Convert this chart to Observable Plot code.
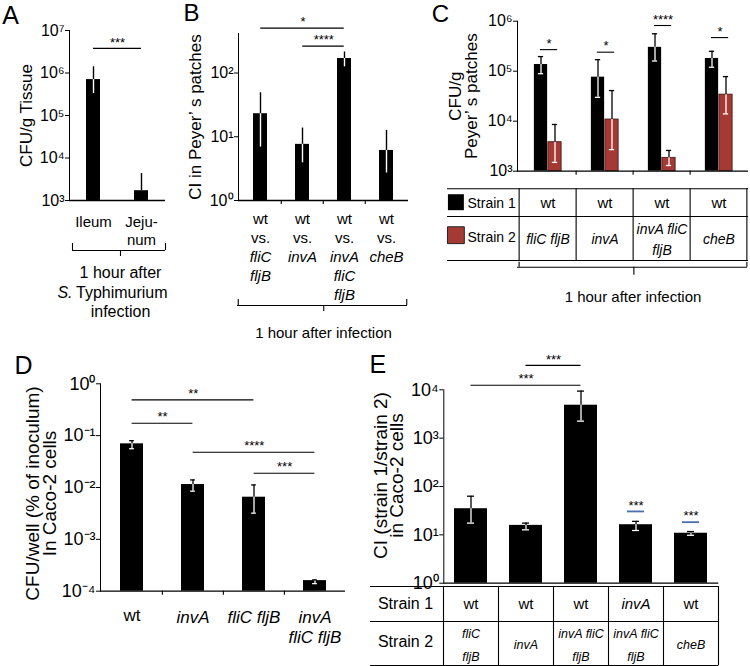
<!DOCTYPE html>
<html><head><meta charset="utf-8">
<script src="https://cdn.jsdelivr.net/npm/d3@7"></script>
<script src="https://cdn.jsdelivr.net/npm/@observablehq/plot@0.6"></script>
<style>
body{margin:0;background:#fff}
#fig{position:relative;width:750px;height:666px;overflow:hidden;background:#fff}
.panel{position:absolute}
</style></head><body><div id="fig"></div><script>
// ---------------- DATA ----------------
// Panel A
const aCategories = ["Ileum", "Jejunum"];
const aTickText = ["Ileum", "Jeju-\nnum"];
const aMean = [7.0e5, 1.7e3];
const aUpper = [1.4e6, 4.3e3];
const aLower = [3.3e5, null];
const aYTicks = [1e3, 1e4, 1e5, 1e6, 1e7];
const aSig = [{from: "Ileum", to: "Jejunum", y: 3.8e6, label: "***"}];

// Panel B
const bCategories = ["fliC fljB", "invA", "invA fliC fljB", "cheB"];
const bStrain2Text = ["fliC\nfljB", "invA", "invA\nfliC\nfljB", "cheB"];
const bMean = [23, 7.6, 169, 6.1];
const bUpper = [49, 13.7, 214, 12.6];
const bLower = [6.9, 3.9, 125, 2.7];
const bYTicks = [1, 10, 100];
const bYMax = 417;
const bSig = [
  {from: "fliC fljB", to: "invA fliC fljB", y: 507, label: "*"},
  {from: "invA", to: "invA fliC fljB", y: 264, label: "****"}
];

// Panel C
const cCategories = ["fliC fljB", "invA", "invA fliC fljB", "cheB"];
const cStrain1Text = ["wt", "wt", "wt", "wt"];
const cStrain2Text = ["fliC fljB", "invA", "invA fliC\nfljB", "cheB"];
const cStrain1Mean = [1.36e5, 7.6e4, 3.0e5, 1.8e5];
const cStrain1Upper = [1.96e5, 1.7e5, 5.6e5, 2.5e5];
const cStrain1Lower = [8.9e4, 3.0e4, 1.6e5, 1.2e5];
const cStrain2Mean = [3.8e3, 1.08e4, 1.85e3, 3.4e4];
const cStrain2Upper = [8.6e3, 4.1e4, 2.6e3, 7.8e4];
const cStrain2Lower = [1.5e3, 2.7e3, 1.3e3, 1.4e4];
const cYTicks = [1e3, 1e4, 1e5, 1e6];
const cSigY = [2.7e5, 2.4e5, 8.2e5, 4.7e5];
const cSigText = ["*", "*", "****", "*"];

// Panel D
const dCategories = ["wt", "invA", "fliC fljB", "invA fliC fljB"];
const dTickText = ["wt", "invA", "fliC fljB", "invA\nfliC fljB"];
const dMean = [0.0695, 0.0114, 0.0065, 1.6e-4];
const dUpper = [0.08, 0.014, 0.0112, 1.65e-4];
const dLower = [0.056, 0.0085, 0.0032, 1.4e-4];
const dYTicks = [1e-4, 1e-3, 1e-2, 1e-1, 1];
const dSig = [
  {from: "wt", to: "fliC fljB", y: 0.49, label: "**"},
  {from: "wt", to: "invA", y: 0.173, label: "**"},
  {from: "invA", to: "invA fliC fljB", y: 0.0478, label: "****"},
  {from: "fliC fljB", to: "invA fliC fljB", y: 0.0188, label: "***"}
];

// Panel E
const eStrain1 = ["wt", "wt", "wt", "invA", "wt"];
const eStrain2 = ["fliC\nfljB", "invA", "invA fliC\nfljB", "invA fliC\nfljB", "cheB"];
const eMean = [34.7, 15.7, 4800, 16.2, 10.8];
const eUpper = [63, 17.5, 9400, 19, 11.7];
const eLower = [17.5, 12.7, 2250, 12.3, 9.8];
const eYTicks = [1, 10, 100, 1000, 10000];
const eSigPairs = [[1, 2, 3.2e4, "***"], [0, 2, 1.24e4, "***"]];
const eSigSingle = [[3, 30.5, "***"], [4, 18.3, "***"]];

// ---------------- HELPERS ----------------
const FONT = "'Liberation Sans', Arial, Helvetica, sans-serif";
const RED = "#a53a35";
const BLUE = "#4a6fae";
const SUP = {"0":"⁰","1":"¹","2":"²","3":"³","4":"⁴","5":"⁵","6":"⁶","7":"⁷","8":"⁸","9":"⁹","-":"⁻"};
const pow10 = d => "10" + String(Math.round(Math.log10(d))).replace(/./g, c => SUP[c]);

function mount(svg, left, top) {
  const div = document.createElement("div");
  div.className = "panel";
  div.style.left = left + "px";
  div.style.top = top + "px";
  div.appendChild(svg);
  document.getElementById("fig").appendChild(div);
}

function basePlot({W, H, ml, mr, mt, mb, fontSize, xDomain, yDomain, yTicks, marks}) {
  return Plot.plot({
    width: W, height: H, marginLeft: ml, marginRight: mr, marginTop: mt, marginBottom: mb,
    style: {background: "transparent", overflow: "visible", fontFamily: FONT, fontSize: fontSize + "px", color: "black"},
    x: {domain: xDomain, padding: 0, axis: null},
    y: {type: "log", domain: yDomain, ticks: yTicks, tickFormat: pow10, tickSize: 4, tickPadding: 1, line: true, label: null},
    marks
  });
}

// text anchored to the frame, centred by default
const label = (data, opts) => Plot.text(data, {textAnchor: "middle", lineAnchor: "middle", ...opts});

function errorBars(rows, {bw, dx = 0, cap = 0, sw = 1.4}) {
  const withLo = rows.filter(d => d.lo != null);
  const marks = [
    Plot.ruleX(rows, {x: "key", y1: "mean", y2: "hi", dx, stroke: "black", strokeWidth: sw}),
    Plot.ruleX(withLo, {x: "key", y1: "lo", y2: "mean", dx, stroke: "white", strokeWidth: sw})
  ];
  if (cap) {
    const inset = (bw - cap) / 2;
    marks.push(Plot.tickY(rows, {x: "key", y: "hi", dx, insetLeft: inset, insetRight: inset, stroke: "black", strokeWidth: sw}));
    marks.push(Plot.tickY(withLo, {x: "key", y: "lo", dx, insetLeft: inset, insetRight: inset, stroke: "white", strokeWidth: sw}));
  }
  return marks;
}

function sigMarks(sig, domain, bw, {stroke = "black", fontSize = 13, dy = -6} = {}) {
  return [
    Plot.ruleY(sig, {x1: "from", x2: "to", y: "y", insetLeft: bw / 2, insetRight: bw / 2, stroke, strokeWidth: 1.1}),
    ...sig.map(s => Plot.text([s], {x: "from", y: "y", text: "label", fontSize, dy,
      dx: (domain.indexOf(s.to) - domain.indexOf(s.from)) * bw / 2}))
  ];
}

const hline = (yBase, below, insetLeft = 0, insetRight = 0, extra = {}) =>
  Plot.ruleY([yBase], {y: d => d, dy: below, insetLeft, insetRight, stroke: "black", strokeWidth: 1.1, ...extra});
const vline = (xs, dx, from, to, fh, extra = {}) =>
  Plot.ruleX(xs, {x: d => d, dx, insetTop: fh + from, insetBottom: -to, stroke: "black", strokeWidth: 1.1, ...extra});
const rowsOf = (keys, mean, hi, lo) => keys.map((key, i) => ({key, mean: mean[i], hi: hi[i], lo: lo[i]}));

// ---------------- PANEL A ----------------
{
  const W = 185, H = 340, ml = 69, mr = 20, mt = 30, mb = 140;
  const fh = H - mt - mb, bw = (W - ml - mr) / aCategories.length;
  const rows = rowsOf(aCategories, aMean, aUpper, aLower).map((d, i) => ({...d, text: aTickText[i]}));
  const yMin = aYTicks[0];
  mount(basePlot({W, H, ml, mr, mt, mb, fontSize: 16, xDomain: aCategories,
    yDomain: [yMin, aYTicks[aYTicks.length - 1]], yTicks: aYTicks, marks: [
    Plot.barY(rows, {x: "key", y1: () => yMin, y2: "mean", fill: "black", insetLeft: 17, insetRight: 17}),
    ...errorBars(rows, {bw}),
    hline(yMin, 0, 0, 0, {strokeWidth: 1.3}),
    ...sigMarks(aSig, aCategories, bw),
    label(rows, {x: "key", frameAnchor: "bottom", text: "text", lineAnchor: "top", dy: 14, lineHeight: 1.2, fontSize: 15}),
    hline(yMin, 50, 3, 0),
    vline([aCategories[0]], -bw / 2 + 3, 43, 50, fh),
    vline([aCategories[1]], bw / 2, 43, 50, fh),
    vline([aCategories[0]], bw / 2 + 3, 50, 56, fh),
    label(["1 hour after"], {frameAnchor: "bottom", dx: 3, dy: 72, fontSize: 16}),
    label(["S."], {frameAnchor: "bottom", dx: -45, dy: 92, textAnchor: "end", fontStyle: "italic", fontSize: 16}),
    label(["Typhimurium"], {frameAnchor: "bottom", dx: -41.5, dy: 92, textAnchor: "start", fontSize: 16}),
    label(["infection"], {frameAnchor: "bottom", dx: 3, dy: 111, fontSize: 16}),
    label(["CFU/g Tissue"], {frameAnchor: "left", dx: -43, rotate: -90, fontSize: 17}),
    label(["A"], {frameAnchor: "top-left", dx: -59, dy: -15, fontSize: 25})
  ]}), 0, 0);
}

// ---------------- PANEL B ----------------
{
  const W = 240, H = 340, ml = 58, mr = 12, mt = 33, mb = 140;
  const fh = H - mt - mb, bw = (W - ml - mr) / bCategories.length;
  const rows = rowsOf(bCategories, bMean, bUpper, bLower).map((d, i) => ({...d, s2: bStrain2Text[i]}));
  const yMin = bYTicks[0];
  const last = bCategories[bCategories.length - 1];
  mount(basePlot({W, H, ml, mr, mt, mb, fontSize: 16, xDomain: bCategories,
    yDomain: [yMin, bYMax], yTicks: bYTicks, marks: [
    Plot.barY(rows, {x: "key", y1: () => yMin, y2: "mean", fill: "black", insetLeft: 14, insetRight: 14}),
    ...errorBars(rows, {bw}),
    hline(yMin, 0, 0, 0, {strokeWidth: 1.3}),
    vline(bCategories.slice(1), -bw / 2, 0, 4, fh),
    ...sigMarks(bSig, bCategories, bw),
    label(rows, {x: "key", frameAnchor: "bottom", text: () => "wt\nvs.", lineAnchor: "top", dy: 10, lineHeight: 1.27, fontSize: 15}),
    label(rows, {x: "key", frameAnchor: "bottom", text: "s2", lineAnchor: "top", dy: 48, lineHeight: 1.27, fontSize: 15, fontStyle: "italic"}),
    hline(yMin, 105, -1, 1),
    vline([bCategories[0]], -bw / 2 - 1, 99, 105, fh),
    vline([last], bw / 2 - 1, 99, 105, fh),
    vline([bCategories[1]], bw / 2, 105, 111, fh),
    label(["1 hour after infection"], {frameAnchor: "bottom", dy: 133, fontSize: 15}),
    label(["CI in Peyer’ s patches"], {frameAnchor: "left", dx: -43, rotate: -90, fontSize: 17}),
    label(["B"], {frameAnchor: "top-left", dx: -47, dy: -20, fontSize: 24})
  ]}), 180, 0);
}

// ---------------- PANEL C ----------------
{
  const W = 330, H = 310, ml = 97, mr = 2, mt = 20.7, mb = 139.3;
  const fh = H - mt - mb, bw = (W - ml - mr) / cCategories.length, half = bw / 2, barW = 14;
  const rows1 = rowsOf(cCategories, cStrain1Mean, cStrain1Upper, cStrain1Lower);
  const rows2 = rowsOf(cCategories, cStrain2Mean, cStrain2Upper, cStrain2Lower);
  const sig = cCategories.map((key, i) => ({key, y: cSigY[i], label: cSigText[i]}));
  const table = cCategories.map((key, i) => ({key, s1: cStrain1Text[i], s2: cStrain2Text[i]}));
  const yMin = cYTicks[0];
  const last = cCategories[cCategories.length - 1];
  mount(basePlot({W, H, ml, mr, mt, mb, fontSize: 16, xDomain: cCategories,
    yDomain: [yMin, cYTicks[cYTicks.length - 1]], yTicks: cYTicks, marks: [
    Plot.barY(rows1, {x: "key", y1: () => yMin, y2: "mean", fill: "black", insetLeft: half - barW, insetRight: half}),
    Plot.barY(rows2, {x: "key", y1: () => yMin, y2: "mean", fill: RED, stroke: "#3b1512", strokeWidth: 0.8, insetLeft: half, insetRight: half - barW}),
    ...errorBars(rows1, {bw, dx: -7, cap: 6, sw: 1.3}),
    ...errorBars(rows2, {bw, dx: 7, cap: 6, sw: 1.3}),
    hline(yMin, 0, 0, 0, {strokeWidth: 1.3}),
    vline(cCategories.slice(1), -bw / 2, 0, 4, fh),
    Plot.ruleY(sig, {x1: "key", x2: "key", y: "y", insetLeft: half - 8, insetRight: half - 10, stroke: "black", strokeWidth: 1.1}),
    Plot.text(sig, {x: "key", y: "y", text: "label", dx: 1, dy: -6, fontSize: 13}),
    // table
    hline(yMin, 17.6, -70, 0), hline(yMin, 45.3, -70, 0), hline(yMin, 89.3, -70, 0),
    vline(cCategories, -bw / 2, 17.6, 89.3, fh), vline([last], bw / 2 - 1, 17.6, 89.3, fh),
    Plot.dot([0], {x: null, y: null, frameAnchor: "bottom-left", dx: -61.6, dy: 31, symbol: "square", r: 9, fill: "black"}),
    Plot.dot([0], {x: null, y: null, frameAnchor: "bottom-left", dx: -61.6, dy: 64, symbol: "square", r: 9.5, fill: RED, stroke: "#222", strokeWidth: 1}),
    label(["Strain 1"], {frameAnchor: "bottom-left", dx: -50, dy: 32.3, textAnchor: "start", fontSize: 14}),
    label(["Strain 2"], {frameAnchor: "bottom-left", dx: -50, dy: 66.3, textAnchor: "start", fontSize: 14}),
    label(table, {x: "key", frameAnchor: "bottom", text: "s1", dy: 32.3, fontSize: 15}),
    label(table, {x: "key", frameAnchor: "bottom", text: "s2", dy: 66.3, fontSize: 14, lineHeight: 1.55, fontStyle: "italic"}),
    // bracket
    hline(yMin, 96, 0, 1),
    vline([cCategories[0]], -bw / 2, 91, 96, fh),
    vline([last], bw / 2 - 1, 91, 96, fh),
    vline([cCategories[1]], bw / 2, 96, 104, fh),
    label(["1 hour after infection"], {frameAnchor: "bottom", dy: 126, fontSize: 15}),
    label(["CFU/g"], {frameAnchor: "left", dx: -62, rotate: -90, fontSize: 17}),
    label(["Peyer’ s patches"], {frameAnchor: "left", dx: -46, rotate: -90, fontSize: 17}),
    label(["C"], {frameAnchor: "top-left", dx: -77, dy: -7, fontSize: 24})
  ]}), 420, 0);
}

// ---------------- PANEL D ----------------
{
  const W = 370, H = 326, ml = 100, mr = 25, mt = 43.3, mb = 75.3;
  const fh = H - mt - mb, bw = (W - ml - mr) / dCategories.length;
  const rows = rowsOf(dCategories, dMean, dUpper, dLower).map((d, i) => ({...d, text: dTickText[i]}));
  const yMin = dYTicks[0];
  mount(basePlot({W, H, ml, mr, mt, mb, fontSize: 18, xDomain: dCategories,
    yDomain: [yMin, dYTicks[dYTicks.length - 1]], yTicks: dYTicks, marks: [
    Plot.barY(rows, {x: "key", y1: () => yMin, y2: "mean", fill: "black", insetLeft: 19, insetRight: 19}),
    ...errorBars(rows, {bw, cap: 5, sw: 1.3}),
    hline(yMin, 0, 0, 0, {strokeWidth: 1.3}),
    vline(dCategories.slice(1), -bw / 2, 0, 4, fh),
    ...sigMarks(dSig, dCategories, bw),
    label(rows.slice(0, 1), {x: "key", frameAnchor: "bottom", text: "text", lineAnchor: "top", dy: 17.5, fontSize: 17}),
    label(rows.slice(1), {x: "key", frameAnchor: "bottom", text: "text", lineAnchor: "top", dy: 17.5, lineHeight: 1.18, fontSize: 17, fontStyle: "italic"}),
    label(["CFU/well (% of inoculum)"], {frameAnchor: "left", dx: -68, dy: 6, rotate: -90, fontSize: 19}),
    label(["In Caco-2 cells"], {frameAnchor: "left", dx: -51, dy: 6, rotate: -90, fontSize: 19}),
    label(["D"], {frameAnchor: "top-left", dx: -77, dy: -18, fontSize: 25})
  ]}), 0, 340);
}

// ---------------- PANEL E ----------------
{
  const W = 380, H = 326, ml = 73.3, mr = 31.7, mt = 49.3, mb = 83.3;
  const eCategories = eStrain1.map((s, i) => s + " vs " + eStrain2[i].replace("\n", " "));
  const fh = H - mt - mb, bw = (W - ml - mr) / eCategories.length;
  const rows = rowsOf(eCategories, eMean, eUpper, eLower).map((d, i) => ({...d, s1: eStrain1[i], s2: eStrain2[i]}));
  const sig = eSigPairs.map(([a, b, y, lab]) => ({from: eCategories[a], to: eCategories[b], y, label: lab}));
  const blue = eSigSingle.map(([a, y, lab]) => ({key: eCategories[a], y, label: lab}));
  const yMin = eYTicks[0];
  const last = eCategories[eCategories.length - 1];
  mount(basePlot({W, H, ml, mr, mt, mb, fontSize: 18, xDomain: eCategories,
    yDomain: [yMin, eYTicks[eYTicks.length - 1]], yTicks: eYTicks, marks: [
    Plot.barY(rows, {x: "key", y1: () => yMin, y2: "mean", fill: "black", insetLeft: 11, insetRight: 11}),
    ...errorBars(rows, {bw, cap: 7, sw: 1.3}),
    hline(yMin, 0, 0, 0, {strokeWidth: 1.3}),
    ...sigMarks(sig, eCategories, bw),
    Plot.ruleY(blue, {x1: "key", x2: "key", y: "y", insetLeft: bw / 2 - 8.5, insetRight: bw / 2 - 8.5, stroke: BLUE, strokeWidth: 1.8}),
    Plot.text(blue, {x: "key", y: "y", text: "label", dy: -6, fontSize: 13}),
    // table
    hline(yMin, 3.3, -73.3, 0), hline(yMin, 38.3, -73.3, 0), hline(yMin, 82.3, -73.3, 0),
    vline(eCategories, -bw / 2, 3.3, 82.3, fh), vline([last], bw / 2, 3.3, 82.3, fh),
    label(["Strain 1"], {frameAnchor: "bottom-left", dx: -38.3, dy: 20.6, fontSize: 16}),
    label(["Strain 2"], {frameAnchor: "bottom-left", dx: -38.3, dy: 59, fontSize: 16}),
    label(rows.filter(d => d.s1 === "wt"), {x: "key", frameAnchor: "bottom", text: "s1", dy: 20.6, fontSize: 15}),
    label(rows.filter(d => d.s1 !== "wt"), {x: "key", frameAnchor: "bottom", text: "s1", dy: 20.6, fontSize: 15, fontStyle: "italic"}),
    label(rows, {x: "key", frameAnchor: "bottom", text: "s2", dy: 59, fontSize: 12.5, lineHeight: 1.8, fontStyle: "italic"}),
    label(["CI (strain 1/strain 2)"], {frameAnchor: "left", dx: -63, dy: -11, rotate: -90, fontSize: 19}),
    label(["in Caco-2 cells"], {frameAnchor: "left", dx: -47, dy: -11, rotate: -90, fontSize: 19}),
    label(["E"], {frameAnchor: "top-left", dx: -66, dy: -25, fontSize: 25})
  ]}), 370, 340);
}
</script></body></html>
